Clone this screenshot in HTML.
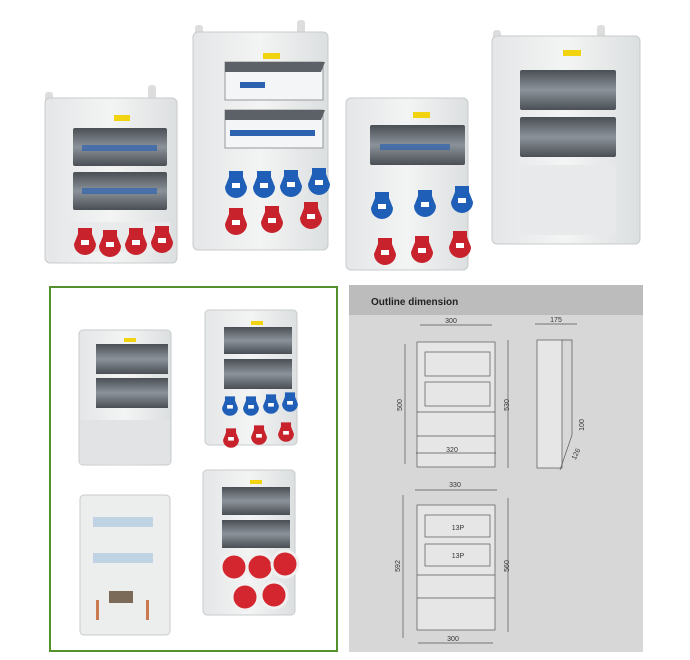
<!DOCTYPE html>
<html><head><meta charset="utf-8"><style>
body{margin:0;background:#fff;width:690px;height:660px;overflow:hidden}
svg{display:block}
text{font-family:"Liberation Sans",sans-serif}
</style></head><body>
<svg width="690" height="660" viewBox="0 0 690 660" xmlns="http://www.w3.org/2000/svg">
<defs>
<linearGradient id="bx" x1="0" x2="1"><stop offset="0" stop-color="#e4e6e7"/><stop offset=".5" stop-color="#f3f4f4"/><stop offset="1" stop-color="#dcdfe0"/></linearGradient>
<linearGradient id="win" x1="0" y1="0" x2="0" y2="1"><stop offset="0" stop-color="#4a4f55"/><stop offset=".5" stop-color="#8b9299"/><stop offset="1" stop-color="#4a4f55"/></linearGradient>
<g id="red"><path d="M-7 -12h14v6l4 10a11 11 0 1 1 -22 0l4 -10z" fill="#c8232c"/><rect x="-4" y="0" width="8" height="5" fill="#fff"/></g>
<g id="blue"><path d="M-7 -12h14v6l4 10a11 11 0 1 1 -22 0l4 -10z" fill="#1f5fb8"/><rect x="-4" y="0" width="8" height="5" fill="#fff"/></g>
</defs>
<!-- top enclosures -->
<g>
<rect x="45" y="92" width="8" height="14" rx="3" fill="#ddd"/><rect x="148" y="85" width="8" height="14" rx="3" fill="#ddd"/>
<rect x="45" y="98" width="132" height="165" rx="5" fill="url(#bx)" stroke="#c8cbcd"/>
<rect x="114" y="115" width="16" height="6" fill="#f1d40f"/>
<rect x="73" y="128" width="94" height="38" rx="2" fill="url(#win)"/>
<rect x="73" y="172" width="94" height="38" rx="2" fill="url(#win)"/>
<rect x="82" y="145" width="75" height="6" fill="#2d62b0" opacity=".7"/><rect x="82" y="188" width="75" height="6" fill="#2d62b0" opacity=".7"/>
<rect x="65" y="222" width="105" height="30" fill="#e9eaeb"/>
<use href="#red" x="85" y="240"/><use href="#red" x="110" y="242"/><use href="#red" x="136" y="240"/><use href="#red" x="162" y="238"/>
</g>
<g>
<rect x="195" y="25" width="8" height="14" rx="3" fill="#ddd"/><rect x="297" y="20" width="8" height="14" rx="3" fill="#ddd"/>
<rect x="193" y="32" width="135" height="218" rx="5" fill="url(#bx)" stroke="#c8cbcd"/>
<rect x="263" y="53" width="17" height="6" fill="#f1d40f"/>
<rect x="225" y="62" width="98" height="38" fill="#f4f5f6" stroke="#999"/>
<path d="M225 62h100l-4 10h-96z" fill="#5c6167"/>
<rect x="225" y="110" width="98" height="38" fill="#f4f5f6" stroke="#999"/>
<path d="M225 110h100l-4 10h-96z" fill="#5c6167"/>
<rect x="240" y="82" width="25" height="6" fill="#2d62b0"/><rect x="230" y="130" width="85" height="6" fill="#2d62b0"/>
<use href="#blue" x="236" y="183"/><use href="#blue" x="264" y="183"/><use href="#blue" x="291" y="182"/><use href="#blue" x="319" y="180"/>
<use href="#red" x="236" y="220"/><use href="#red" x="272" y="218"/><use href="#red" x="311" y="214"/>
</g>
<g>
<rect x="346" y="98" width="122" height="172" rx="5" fill="url(#bx)" stroke="#c8cbcd"/>
<rect x="413" y="112" width="17" height="6" fill="#f1d40f"/>
<rect x="370" y="125" width="95" height="40" rx="2" fill="url(#win)"/>
<rect x="380" y="144" width="70" height="6" fill="#2d62b0" opacity=".7"/>
<use href="#blue" x="382" y="204"/><use href="#blue" x="425" y="202"/><use href="#blue" x="462" y="198"/>
<use href="#red" x="385" y="250"/><use href="#red" x="422" y="248"/><use href="#red" x="460" y="243"/>
</g>
<g>
<rect x="493" y="30" width="8" height="14" rx="3" fill="#ddd"/><rect x="597" y="25" width="8" height="14" rx="3" fill="#ddd"/>
<rect x="492" y="36" width="148" height="208" rx="5" fill="url(#bx)" stroke="#c8cbcd"/>
<rect x="563" y="50" width="18" height="6" fill="#f1d40f"/>
<rect x="520" y="70" width="96" height="40" rx="2" fill="url(#win)"/>
<rect x="520" y="117" width="96" height="40" rx="2" fill="url(#win)"/>
<rect x="520" y="165" width="96" height="70" fill="#e7e9ea"/>
</g>
<!-- green box -->
<rect x="50" y="287" width="287" height="364" fill="#fff" stroke="#55902f" stroke-width="2"/>
<g>
<rect x="79" y="330" width="92" height="135" rx="4" fill="url(#bx)" stroke="#c8cbcd"/>
<rect x="124" y="338" width="12" height="4" fill="#f1d40f"/>
<rect x="96" y="344" width="72" height="30" fill="url(#win)"/>
<rect x="96" y="378" width="72" height="30" fill="url(#win)"/>
<rect x="80" y="420" width="90" height="44" fill="#e1e3e4"/>
</g>
<g>
<rect x="205" y="310" width="92" height="135" rx="4" fill="url(#bx)" stroke="#c8cbcd"/>
<rect x="251" y="321" width="12" height="4" fill="#f1d40f"/>
<rect x="224" y="327" width="68" height="27" fill="url(#win)"/>
<rect x="224" y="359" width="68" height="30" fill="url(#win)"/>
<g transform="translate(230,405) scale(0.72)"><use href="#blue"/></g>
<g transform="translate(251,405) scale(0.72)"><use href="#blue"/></g>
<g transform="translate(271,403) scale(0.72)"><use href="#blue"/></g>
<g transform="translate(290,401) scale(0.72)"><use href="#blue"/></g>
<g transform="translate(231,437) scale(0.72)"><use href="#red"/></g>
<g transform="translate(259,434) scale(0.72)"><use href="#red"/></g>
<g transform="translate(286,431) scale(0.72)"><use href="#red"/></g>
</g>
<g>
<rect x="80" y="495" width="90" height="140" rx="4" fill="#eceeee" stroke="#c8cbcd"/>
<rect x="93" y="517" width="60" height="10" fill="#bfd3e2"/>
<rect x="93" y="553" width="60" height="10" fill="#bfd3e2"/>
<rect x="109" y="591" width="24" height="12" fill="#7b6a57"/>
<rect x="96" y="600" width="3" height="20" fill="#c97a50"/><rect x="146" y="600" width="3" height="20" fill="#c97a50"/>
</g>
<g>
<rect x="203" y="470" width="92" height="145" rx="4" fill="url(#bx)" stroke="#c8cbcd"/>
<rect x="250" y="480" width="12" height="4" fill="#f1d40f"/>
<rect x="222" y="487" width="68" height="28" fill="url(#win)"/>
<rect x="222" y="520" width="68" height="28" fill="url(#win)"/>
<g fill="#d4262e" stroke="#f0f0f0" stroke-width="3">
<circle cx="234" cy="567" r="13"/><circle cx="260" cy="567" r="13"/><circle cx="285" cy="564" r="13"/>
<circle cx="245" cy="597" r="13"/><circle cx="274" cy="595" r="13"/></g>
</g>
<!-- gray panel -->
<rect x="349" y="285" width="294" height="367" fill="#d7d7d7"/>
<rect x="349" y="285" width="294" height="30" fill="#bcbcbc"/>
<text x="371" y="305" font-size="10" font-weight="bold" fill="#222">Outline dimension</text>
<g fill="none" stroke="#555" stroke-width=".7" font-size="7">
<rect x="417" y="342" width="78" height="125" fill="#e6e6e6"/>
<rect x="425" y="352" width="65" height="24"/><rect x="425" y="382" width="65" height="24"/>
<line x1="417" y1="412" x2="495" y2="412"/><line x1="417" y1="436" x2="495" y2="436"/>
<line x1="420" y1="325" x2="492" y2="325"/><line x1="405" y1="344" x2="405" y2="464"/><line x1="508" y1="340" x2="508" y2="468"/><line x1="416" y1="453" x2="496" y2="453"/>
<rect x="537" y="340" width="25" height="128" fill="#e6e6e6"/><path d="M562 340h10v95l-12 35"/>
<line x1="535" y1="324" x2="577" y2="324"/>
<rect x="417" y="505" width="78" height="125" fill="#e6e6e6"/>
<rect x="425" y="515" width="65" height="22"/><rect x="425" y="544" width="65" height="22"/>
<line x1="417" y1="575" x2="495" y2="575"/><line x1="417" y1="598" x2="495" y2="598"/>
<line x1="415" y1="490" x2="497" y2="490"/><line x1="403" y1="495" x2="403" y2="638"/><line x1="508" y1="498" x2="508" y2="632"/><line x1="418" y1="643" x2="493" y2="643"/>
</g>
<g font-size="7" fill="#333">
<text x="451" y="323" text-anchor="middle">300</text>
<text x="556" y="322" text-anchor="middle">175</text>
<text x="452" y="452" text-anchor="middle">320</text>
<text x="455" y="487" text-anchor="middle">330</text>
<text x="453" y="641" text-anchor="middle">300</text>
<text x="458" y="530" text-anchor="middle">13P</text>
<text x="458" y="558" text-anchor="middle">13P</text>
<text transform="translate(402,405) rotate(-90)" text-anchor="middle">500</text>
<text transform="translate(509,405) rotate(-90)" text-anchor="middle">530</text>
<text transform="translate(400,566) rotate(-90)" text-anchor="middle">592</text>
<text transform="translate(509,566) rotate(-90)" text-anchor="middle">560</text>
<text transform="translate(584,425) rotate(-90)" text-anchor="middle">100</text>
<text transform="translate(578,455) rotate(-65)" text-anchor="middle">126</text>
</g>
</svg>
</body></html>
